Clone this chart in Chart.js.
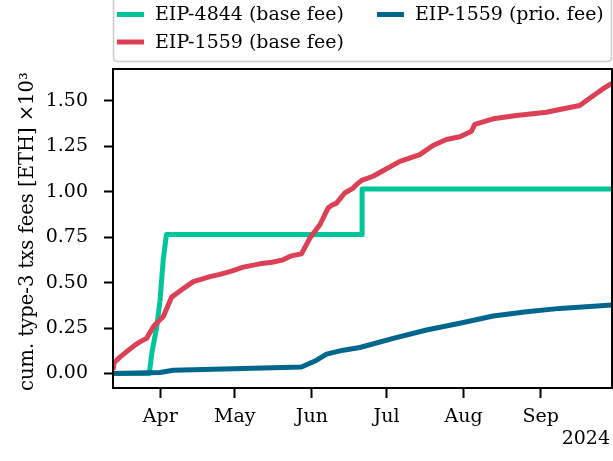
<!DOCTYPE html>
<html>
<head>
<meta charset="utf-8">
<script src="https://cdn.jsdelivr.net/npm/chart.js@4.4.1/dist/chart.umd.min.js"></script>
<style>
  html, body { margin: 0; padding: 0; background: #ffffff; }
  #wrap { width: 613px; height: 461px; }
</style>
</head>
<body>
<div id="wrap"><canvas id="c" width="613" height="461"></canvas></div>
<script>
// ---- data (x = days since 2024-03-13) ----
const seriesLabels = ['EIP-4844 (base fee)', 'EIP-1559 (base fee)', 'EIP-1559 (prio. fee)'];

const blobDays = [0, 14.6, 15.6, 17.6, 18.9, 20.2, 21.5, 100.2, 100.2, 200.7];
const blobFee  = [0, 0, 0.11, 0.257, 0.40, 0.625, 0.765, 0.765, 1.015, 1.015];

const baseDays = [0, 0.5, 2.8, 5.5, 8.8, 11, 13.5, 16.2, 18.5, 20.2, 22, 23.6, 27.6, 32.3, 36, 39, 43, 47,
                  52.4, 59, 64, 68.4, 71.7, 75.8, 79.2, 83.2, 86.5, 88, 89.9, 93.2, 96.6, 98, 100, 104.6,
                  109.3, 115.4, 123.4, 128.7, 134.1, 139.5, 144.2, 145.5, 152.9, 162.3, 174.3, 179.7,
                  187.7, 193, 197.7, 200.7];
const baseFee  = [0.02, 0.06, 0.09, 0.12, 0.156, 0.175, 0.193, 0.257, 0.29, 0.312, 0.37, 0.42, 0.46, 0.505,
                  0.52, 0.533, 0.545, 0.56, 0.585, 0.603, 0.612, 0.625, 0.647, 0.658, 0.745, 0.818, 0.91,
                  0.925, 0.937, 0.993, 1.02, 1.04, 1.062, 1.085, 1.121, 1.167, 1.204, 1.254, 1.287, 1.302,
                  1.333, 1.370, 1.401, 1.419, 1.437, 1.452, 1.474, 1.526, 1.572, 1.596];

const prioDays = [0, 18.9, 24.2, 52.4, 75.8, 81.9, 85.9, 92.6, 99.3, 112.7, 126.1, 139.5, 152.9, 166.3, 179.7, 200.7];
const prioFee  = [0, 0.005, 0.018, 0.027, 0.036, 0.073, 0.106, 0.128, 0.143, 0.193, 0.239, 0.276, 0.316, 0.34, 0.358, 0.377];

const xTickDays   = [19, 49, 80, 110, 141, 172];
const xTickLabels = ['Apr', 'May', 'Jun', 'Jul', 'Aug', 'Sep'];
const yTickValues = [0, 0.25, 0.5, 0.75, 1.0, 1.25, 1.5];
const yTickLabels = ['0.00', '0.25', '0.50', '0.75', '1.00', '1.25', '1.50'];
const yearLabel   = '2024';
const yTitle      = 'cum. type-3 txs fees [ETH] \u00d710\u00b3 ';

// ---- styles ----
const colors = ['#00c49a', '#db4055', '#00668e'];
const FONT = 'DejaVu Serif';
const FS = 19;

function pts(xs, ys) { return xs.map((x, i) => ({ x: x, y: ys[i] })); }

const frameAndLegend = {
  id: 'frameAndLegend',
  afterDatasetsDraw(chart) {
    const { ctx, chartArea: a } = chart;
    ctx.save();
    ctx.strokeStyle = '#000';
    ctx.lineWidth = 2;
    ctx.strokeRect(a.left, a.top, a.right - a.left, a.bottom - a.top);
    ctx.restore();
  },
  afterDraw(chart) {
    const { ctx } = chart;
    ctx.save();
    // legend box
    const bx = 113.5, by = -6, bw = 498, bh = 67.5, r = 4;
    ctx.beginPath();
    ctx.moveTo(bx + r, by);
    ctx.lineTo(bx + bw - r, by);
    ctx.quadraticCurveTo(bx + bw, by, bx + bw, by + r);
    ctx.lineTo(bx + bw, by + bh - r);
    ctx.quadraticCurveTo(bx + bw, by + bh, bx + bw - r, by + bh);
    ctx.lineTo(bx + r, by + bh);
    ctx.quadraticCurveTo(bx, by + bh, bx, by + bh - r);
    ctx.lineTo(bx, by + r);
    ctx.quadraticCurveTo(bx, by, bx + r, by);
    ctx.closePath();
    ctx.fillStyle = 'rgba(255,255,255,0.85)';
    ctx.fill();
    ctx.strokeStyle = '#cccccc';
    ctx.lineWidth = 1.5;
    ctx.stroke();
    // entries (column-major, 2 rows)
    const colX = [117, 377];
    const rowY = [14.5, 42];
    chart.data.datasets.forEach((ds, i) => {
      const col = Math.floor(i / 2), row = i % 2;
      const x = colX[col], y = rowY[row];
      ctx.strokeStyle = ds.borderColor;
      ctx.lineWidth = 5;
      ctx.lineCap = 'butt';
      ctx.beginPath();
      ctx.moveTo(x, y);
      ctx.lineTo(x + 27, y);
      ctx.stroke();
      ctx.fillStyle = '#000';
      ctx.font = FS + 'px "' + FONT + '"';
      ctx.textBaseline = 'middle';
      ctx.textAlign = 'left';
      ctx.fillText(ds.label, x + 38, y + 1);
    });
    // year label
    ctx.font = FS + 'px "' + FONT + '"';
    ctx.textAlign = 'right';
    ctx.textBaseline = 'middle';
    ctx.fillStyle = '#000';
    ctx.fillText(yearLabel, 610, 439);
    ctx.restore();
  }
};

new Chart(document.getElementById('c'), {
  type: 'line',
  data: {
    datasets: [
      { label: seriesLabels[0], data: pts(blobDays, blobFee), borderColor: colors[0], order: 3 },
      { label: seriesLabels[1], data: pts(baseDays, baseFee), borderColor: colors[1], order: 2 },
      { label: seriesLabels[2], data: pts(prioDays, prioFee), borderColor: colors[2], order: 1 }
    ].map(d => Object.assign(d, {
      borderWidth: 5, pointRadius: 0, tension: 0, fill: false, clip: 0,
      borderJoinStyle: 'round', borderCapStyle: 'butt', backgroundColor: d.borderColor
    }))
  },
  options: {
    responsive: false,
    animation: false,
    devicePixelRatio: 1,
    layout: { padding: { left: 0, top: 69, right: 1, bottom: 0 } },
    plugins: { legend: { display: false }, tooltip: { enabled: false } },
    scales: {
      x: {
        type: 'linear',
        min: 0,
        max: 200.7,
        afterBuildTicks: s => { s.ticks = xTickDays.map(v => ({ value: v })); },
        afterFit: s => { s.height = 73; },
        ticks: {
          autoSkip: false, maxRotation: 0, padding: 8, color: '#000',
          font: { family: FONT, size: FS },
          callback: (v, i) => xTickLabels[i]
        },
        grid: { drawOnChartArea: false, drawTicks: true, tickLength: 10, tickWidth: 2, tickColor: '#000' },
        border: { display: false }
      },
      y: {
        type: 'linear',
        min: -0.08,
        max: 1.675,
        afterBuildTicks: s => { s.ticks = yTickValues.map(v => ({ value: v })); },
        afterFit: s => { s.width = 113; },
        ticks: {
          autoSkip: false, padding: 16, color: '#000',
          font: { family: FONT, size: FS },
          callback: (v, i) => yTickLabels[i]
        },
        title: {
          display: true, text: yTitle, color: '#000',
          font: { family: FONT, size: 19.5 }, padding: { top: 16, bottom: 0 }
        },
        grid: { drawOnChartArea: false, drawTicks: true, tickLength: 9, tickWidth: 2, tickColor: '#000' },
        border: { display: false }
      }
    }
  },
  plugins: [frameAndLegend]
});
</script>
</body>
</html>
